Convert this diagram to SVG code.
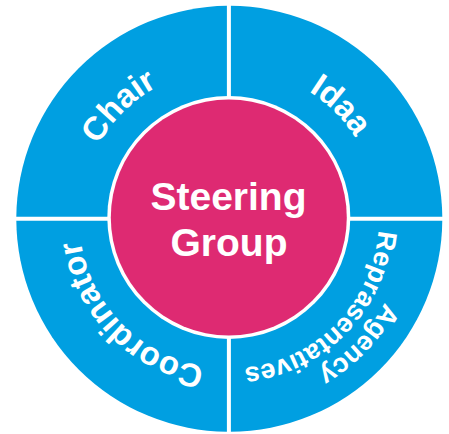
<svg xmlns="http://www.w3.org/2000/svg" xmlns:xlink="http://www.w3.org/1999/xlink" width="449" height="434" viewBox="0 0 449 434">
  <style>
    .ring { fill: #009FE1; }
    .hub-border { fill: #FFFFFF; }
    .hub { fill: #DE2A72; }
    .label { fill: #FFFFFF; font-family: "Liberation Sans", Arial, Helvetica, sans-serif; font-weight: bold; text-anchor: middle; }
    .lbl-big { font-size: 33px; }
    .lbl-small { font-size: 27px; }
    .title { font-size: 39px; }
  </style>
  <defs>
    <!-- quadrant windows; the 4px strips between them leave the white dividers -->
    <clipPath id="q-tl"><rect x="0" y="0" width="226.9" height="216.8"/></clipPath>
    <clipPath id="q-tr"><rect x="230.9" y="0" width="220" height="216.8"/></clipPath>
    <clipPath id="q-br"><rect x="230.9" y="220.8" width="220" height="220"/></clipPath>
    <clipPath id="q-bl"><rect x="0" y="220.8" width="226.9" height="220"/></clipPath>
    <!-- clockwise arcs centred on the top of a circle at the origin; labels rotate them into place -->
    <path id="arc150" d="M -147.72 26.05 A 150 150 0 1 1 147.72 26.05"/>
    <path id="arc177" d="M -174.31 30.74 A 177 177 0 1 1 174.31 30.74"/>
  </defs>

  <g id="chair">
    <circle class="ring" cx="229.3" cy="218.8" r="213" clip-path="url(#q-tl)"/>
    <text class="label lbl-big" transform="translate(229 218.5) rotate(-44.5)"><textPath xlink:href="#arc150" href="#arc150" startOffset="50%">Chair</textPath></text>
  </g>

  <g id="idaa">
    <circle class="ring" cx="229.3" cy="218.8" r="213" clip-path="url(#q-tr)"/>
    <text class="label lbl-big" transform="translate(229 218.5) rotate(44.7)"><textPath xlink:href="#arc150" href="#arc150" startOffset="50%">Idaa</textPath></text>
  </g>

  <g id="agency-reprasentatives">
    <circle class="ring" cx="229.3" cy="218.8" r="213" clip-path="url(#q-br)"/>
    <text class="label lbl-small" transform="translate(229 218.5) rotate(134.1)"><textPath xlink:href="#arc177" href="#arc177" startOffset="50%">Agency</textPath></text>
    <text class="label lbl-small" transform="translate(229 218.5) rotate(134.4)"><textPath xlink:href="#arc150" href="#arc150" startOffset="50%">Reprasentatives</textPath></text>
  </g>

  <g id="coordinator">
    <circle class="ring" cx="229.3" cy="218.8" r="213" clip-path="url(#q-bl)"/>
    <text class="label lbl-big" transform="translate(229 218.5) rotate(225.4)"><textPath xlink:href="#arc150" href="#arc150" startOffset="50%">Coordinator</textPath></text>
  </g>

  <g id="steering-group">
    <circle class="hub-border" cx="228.8" cy="217.4" r="121.5"/>
    <circle class="hub" cx="228.8" cy="217.4" r="118"/>
    <text class="label title" x="228.5" y="209.5">Steering</text>
    <text class="label title" x="229" y="256">Group</text>
  </g>

  <g id="connectors"/>
</svg>
